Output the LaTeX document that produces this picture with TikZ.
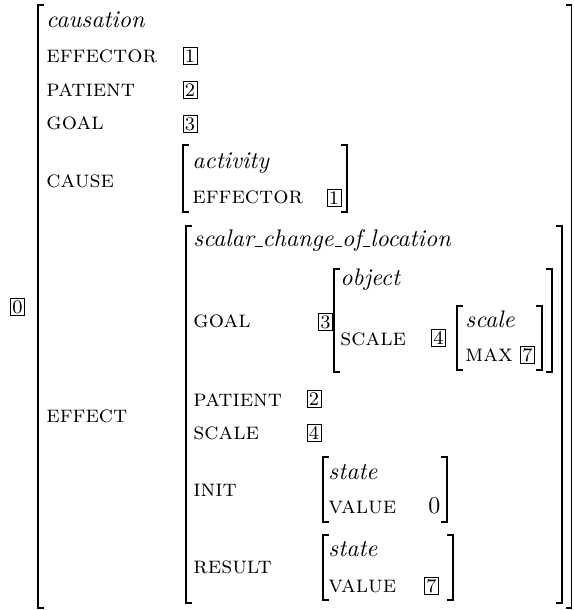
\documentclass[tikz,border=0pt]{standalone}
\usepackage{amsmath, amssymb}
\usepackage{xcolor}
\usepackage{tikz}

\newcommand{\usc}{\leavevmode\kern.06em\vbox{\hrule width.3em}}

\begin{document}
\begin{tikzpicture}[x=0.417pt, y=-0.417pt,
    every node/.style={inner sep=0pt, anchor=base west},
    feat/.style={font=\scshape},
    typ/.style={font=\itshape},
    tag/.style={draw, anchor=center, inner sep=0.8pt, font=\footnotesize},
    brak/.style={line width=0.7pt}]
  \useasboundingbox (0,0) rectangle (573,610);

  % outer matrix
  \node[tag] (t0) at (17.5,307) {0};
  \draw[brak] (44,5) -| (38,608) -- (44,608);
  \draw[brak] (566,5) -| (571.5,608) -- (566,608);
  \node[typ] (caus) at (46,28) {causation};
  \node[feat] (effr) at (46,63) {effector};
  \node[tag] (t1) at (190,56) {1};
  \node[feat] (pat) at (46,97) {patient};
  \node[tag] (t2) at (190,90) {2};
  \node[feat] (goal) at (46,130) {goal};
  \node[tag] (t3) at (190,124) {3};
  \node[feat] (cause) at (46,188) {cause};
  \node[feat] (effect) at (46,422) {effect};

  % cause value
  \draw[brak] (189,145) -| (183,212) -- (189,212);
  \draw[brak] (341,145) -| (347,212) -- (341,212);
  \node[typ] (act) at (192,169) {activity};
  \node[feat] (acteff) at (192,204) {effector};
  \node[tag] (act1) at (334,198) {1};

  % effect value
  \draw[brak] (192,226) -| (186,603) -- (192,603);
  \draw[brak] (556,226) -| (562,603) -- (556,603);
  \node[typ] (scl) at (193,247) {scalar\usc change\usc of\usc location};
  \node[feat] (sgoal) at (193,327) {goal};
  \node[tag] (s3) at (325.5,322) {3};
  \node[feat] (spat) at (193,406) {patient};
  \node[tag] (s2) at (314,399) {2};
  \node[feat] (sscale) at (193,439) {scale};
  \node[tag] (s4) at (314,433) {4};
  \node[feat] (init) at (193,496) {init};
  \node[feat] (res) at (193,573) {result};

  % goal value
  \draw[brak] (340,269) -| (334,372) -- (340,372);
  \draw[brak] (546,269) -| (552,372) -- (546,372);
  \node[typ] (obj) at (340,286) {object};
  \node[feat] (oscale) at (340,345) {scale};
  \node[tag] (o4) at (438.5,338) {4};

  % scale value
  \draw[brak] (463,306) -| (457,370) -- (463,370);
  \draw[brak] (536,306) -| (542,370) -- (536,370);
  \node[typ] (scale) at (465,327) {scale};
  \node[feat] (max) at (465,361) {max};
  \node[tag] (m7) at (527.5,355) {7};

  % init value
  \draw[brak] (329,457) -| (323,522) -- (329,522);
  \draw[brak] (441,457) -| (447,522) -- (441,522);
  \node[typ] (ist) at (328,479) {state};
  \node[feat] (ival) at (328,513) {value};
  \node (zero) at (428,513) {0};

  % result value
  \draw[brak] (329,535) -| (323,600) -- (329,600);
  \draw[brak] (447,535) -| (453,600) -- (447,600);
  \node[typ] (rst) at (328,556) {state};
  \node[feat] (rval) at (328,592) {value};
  \node[tag] (r7) at (431.5,586) {7};
\end{tikzpicture}
\end{document}
